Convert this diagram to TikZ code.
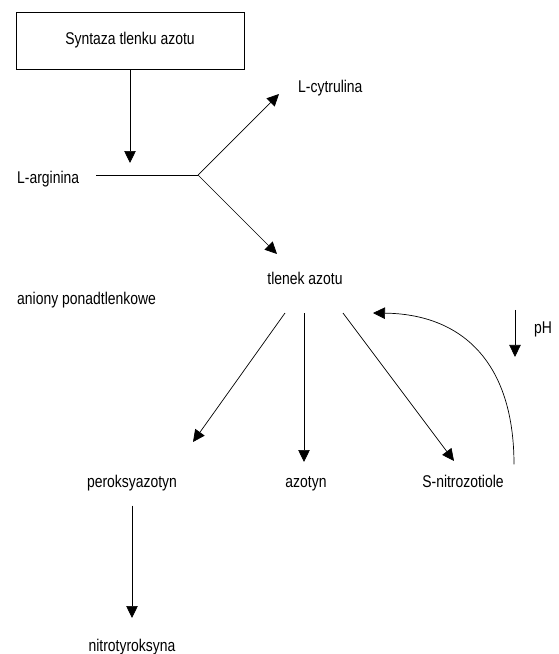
\documentclass[tikz,border=0pt]{standalone}
\usepackage{fontspec}
\setmainfont{Liberation Sans}[FakeStretch=0.82]
\usetikzlibrary{arrows.meta,calc,positioning}

\tikzset{
  label text/.style={inner sep=0pt, font=\fontsize{17}{20}\selectfont},
  enzyme box/.style={draw, line width=0.9pt, minimum width=228pt, minimum height=57pt, font=\fontsize{17}{20}\selectfont},
  flow/.style={line width=0.7pt, -{Triangle[length=12pt,width=11.5pt]}},
}

\begin{document}
\begin{tikzpicture}[x=1pt,y=-1pt]
  \useasboundingbox (0,0) rectangle (558,654);

  \node[enzyme box] (syntaza) at (130,40.5) {Syntaza tlenku azotu};

  \node[label text,anchor=base west] (arginina) at (17,183) {L-arginina};
  \node[label text,anchor=base west] (cytrulina) at (298,92) {L-cytrulina};
  \node[label text,anchor=base] (tlenek) at (305,284) {tlenek azotu};
  \node[label text,anchor=base west] (aniony) at (17,304) {aniony ponadtlenkowe};
  \node[label text,anchor=base west] (ph) at (534,333) {pH};
  \node[label text,anchor=base] (peroksy) at (132,487) {peroksyazotyn};
  \node[label text,anchor=base] (azotyn) at (306,487) {azotyn};
  \node[label text,anchor=base] (tiole) at (463,487) {S-nitrozotiole};
  \node[label text,anchor=base] (nitro) at (132,651) {nitrotyroksyna};

  \coordinate (fork) at (198,175);
  \coordinate (ArgTip) at (syntaza.south |- 0,163);
  \coordinate (CytTip) at (279,94);
  \coordinate (TlenTip) at (277,254);

  % out of the synthase
  \draw[flow] (syntaza.south -| ArgTip) -- (ArgTip);
  \draw[line width=0.7pt] ($ (arginina.east |- fork) + (17,0) $) -- (fork);
  \draw[flow] (fork) -- (CytTip);
  \draw[flow] (fork) -- (TlenTip);

  % products of nitric oxide
  \coordinate (TlenL) at (285,313);
  \coordinate (TlenM) at (304,313);
  \coordinate (TlenR) at (343,313);
  \draw[flow] (TlenL) -- (193,442) coordinate (PerTip);
  \draw[flow] (TlenM) -- (304,462) coordinate (AzoTip);
  \draw[flow] (TlenR) -- (454,461) coordinate (TioTip);

  \draw[flow] ($ (tiole.north) + (51,-10) $) coordinate (TioTop)
    .. controls (514,360) and (460,314) .. (373,313);

  \draw[flow] ($ (ph.west) + (-19,-19) $) -- ++(0,47);

  \draw[flow] ($ (peroksy.south) + (0,15) $) -- (132,618);
\end{tikzpicture}
\end{document}
